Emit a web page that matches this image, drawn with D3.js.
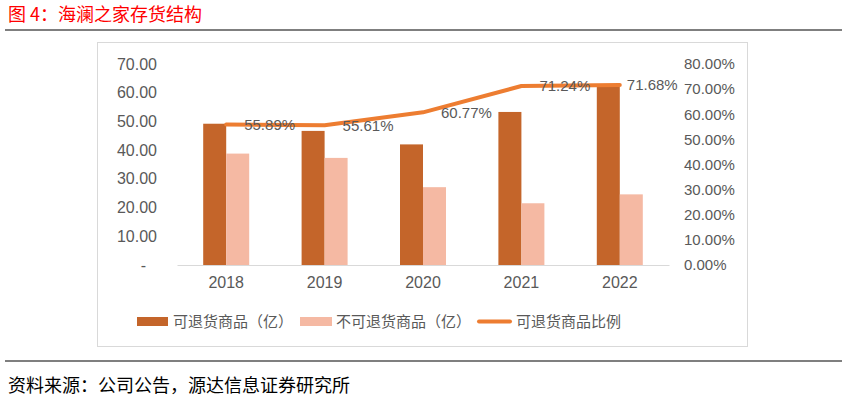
<!DOCTYPE html>
<html>
<head>
<meta charset="utf-8">
<script src="https://cdn.jsdelivr.net/npm/d3@7"></script>
<style>
  body { margin: 0; background: #fff; }
  svg { display: block; font-family: "Liberation Sans", "Noto Sans CJK SC", sans-serif; }
</style>
</head>
<body>
<div id="chart"></div>
<script>
// data
const years = ["2018", "2019", "2020", "2021", "2022"];
const returnable = [49.2, 46.7, 42.0, 53.3, 62.3];      // 可退货商品（亿）
const nonReturnable = [38.8, 37.3, 27.1, 21.5, 24.6];   // 不可退货商品（亿）
const ratio = [0.5589, 0.5561, 0.6077, 0.7124, 0.7168]; // 可退货商品比例
const leftTicks = [0, 10, 20, 30, 40, 50, 60, 70];
const rightTicks = [0, 0.1, 0.2, 0.3, 0.4, 0.5, 0.6, 0.7, 0.8];

const width = 847, height = 401;
const darkColor = "#C4652A", lightColor = "#F5B9A3", lineColor = "#ED7D31";
const textGray = "#595959";
const cjk = "'Noto Sans CJK SC', sans-serif";

let svg = d3.select("#chart")
    .append("svg")
    .attr("width", width)
    .attr("height", height);

// title + rules
svg.append("text")
    .attr("x", 8).attr("y", 21)
    .attr("fill", "#FF0000")
    .style("font-size", "18px")
    .style("font-family", cjk)
    .text("图 4：海澜之家存货结构");

svg.append("line")
    .attr("x1", 5).attr("x2", 842).attr("y1", 30).attr("y2", 30)
    .attr("stroke", "#7f7f7f").attr("stroke-width", 2);

svg.append("line")
    .attr("x1", 5).attr("x2", 842).attr("y1", 361).attr("y2", 361)
    .attr("stroke", "#000").attr("stroke-width", 1.2);

svg.append("text")
    .attr("x", 8).attr("y", 392)
    .attr("fill", "#000")
    .style("font-size", "18px")
    .style("font-family", cjk)
    .text("资料来源：公司公告，源达信息证券研究所");

// chart frame
svg.append("rect")
    .attr("x", 97.5).attr("y", 42.5).attr("width", 650).attr("height", 304)
    .attr("fill", "none").attr("stroke", "#D9D9D9");

// scales
let x0 = d3.scaleBand().domain(years).range([177, 669]);
let x1 = d3.scaleBand().domain(["a", "b"])
    .range([x0.bandwidth() / 2 - 23, x0.bandwidth() / 2 + 23]);
let y = d3.scaleLinear().domain([0, 70]).range([265, 64]);
let y2 = d3.scaleLinear().domain([0, 0.8]).range([265, 64]);

// left axis
let leftAxis = svg.append("g")
    .attr("transform", "translate(157,0)")
    .call(d3.axisLeft(y).tickValues(leftTicks).tickSize(0).tickPadding(0)
        .tickFormat(d => d === 0 ? "-" : d3.format(".2f")(d)));
leftAxis.select(".domain").remove();
leftAxis.selectAll("text")
    .attr("fill", textGray)
    .style("font-size", "16px")
    .attr("dx", d => d === 0 ? -11 : 0);

// right axis
let rightAxis = svg.append("g")
    .attr("transform", "translate(684,0)")
    .call(d3.axisRight(y2).tickValues(rightTicks).tickSize(0).tickPadding(0)
        .tickFormat(d3.format(".2%")));
rightAxis.select(".domain").remove();
rightAxis.selectAll("text")
    .attr("fill", textGray)
    .style("font-size", "15px");

// bars
let groups = svg.append("g").selectAll("g")
    .data(years)
    .enter().append("g")
    .attr("transform", d => `translate(${x0(d)},0)`);

groups.append("rect")
    .attr("x", x1("a"))
    .attr("y", (d, i) => y(returnable[i]))
    .attr("width", x1.bandwidth())
    .attr("height", (d, i) => y(0) - y(returnable[i]))
    .attr("fill", darkColor);

groups.append("rect")
    .attr("x", x1("b"))
    .attr("y", (d, i) => y(nonReturnable[i]))
    .attr("width", x1.bandwidth())
    .attr("height", (d, i) => y(0) - y(nonReturnable[i]))
    .attr("fill", lightColor);

// x axis
let xAxis = svg.append("g")
    .attr("transform", "translate(0,265)")
    .call(d3.axisBottom(x0).tickSize(0).tickPadding(12));
xAxis.select(".domain").attr("stroke", "#D9D9D9");
xAxis.selectAll("text")
    .attr("fill", textGray)
    .style("font-size", "16px");

// ratio line
let cx = i => x0(years[i]) + x0.bandwidth() / 2;
let line = d3.line()
    .x((d, i) => cx(i))
    .y(d => y2(d));

svg.append("path")
    .datum(ratio)
    .attr("d", line)
    .attr("fill", "none")
    .attr("stroke", lineColor)
    .attr("stroke-width", 4)
    .attr("stroke-linecap", "round")
    .attr("stroke-linejoin", "round");

// labels sit right of the point; the last one is pulled in to clear the right axis
svg.append("g").selectAll("text")
    .data(ratio)
    .enter().append("text")
    .attr("x", (d, i) => cx(i) + (i === ratio.length - 1 ? 7 : 18))
    .attr("y", d => y2(d))
    .attr("dy", "0.35em")
    .attr("fill", textGray)
    .style("font-size", "15px")
    .text(d => d3.format(".2%")(d));

// legend
let legend = svg.append("g").style("font-size", "15px")
    .style("font-family", cjk);
legend.append("rect").attr("x", 137).attr("y", 317).attr("width", 31).attr("height", 9).attr("fill", darkColor);
legend.append("text").attr("x", 173).attr("y", 321.5).attr("dy", "0.35em").attr("fill", textGray).text("可退货商品（亿）");
legend.append("rect").attr("x", 300).attr("y", 317).attr("width", 32).attr("height", 9).attr("fill", lightColor);
legend.append("text").attr("x", 336).attr("y", 321.5).attr("dy", "0.35em").attr("fill", textGray).text("不可退货商品（亿）");
legend.append("line").attr("x1", 479).attr("x2", 510).attr("y1", 321.5).attr("y2", 321.5)
    .attr("stroke", lineColor).attr("stroke-width", 4).attr("stroke-linecap", "round");
legend.append("text").attr("x", 516).attr("y", 321.5).attr("dy", "0.35em").attr("fill", textGray).text("可退货商品比例");
</script>
</body>
</html>
